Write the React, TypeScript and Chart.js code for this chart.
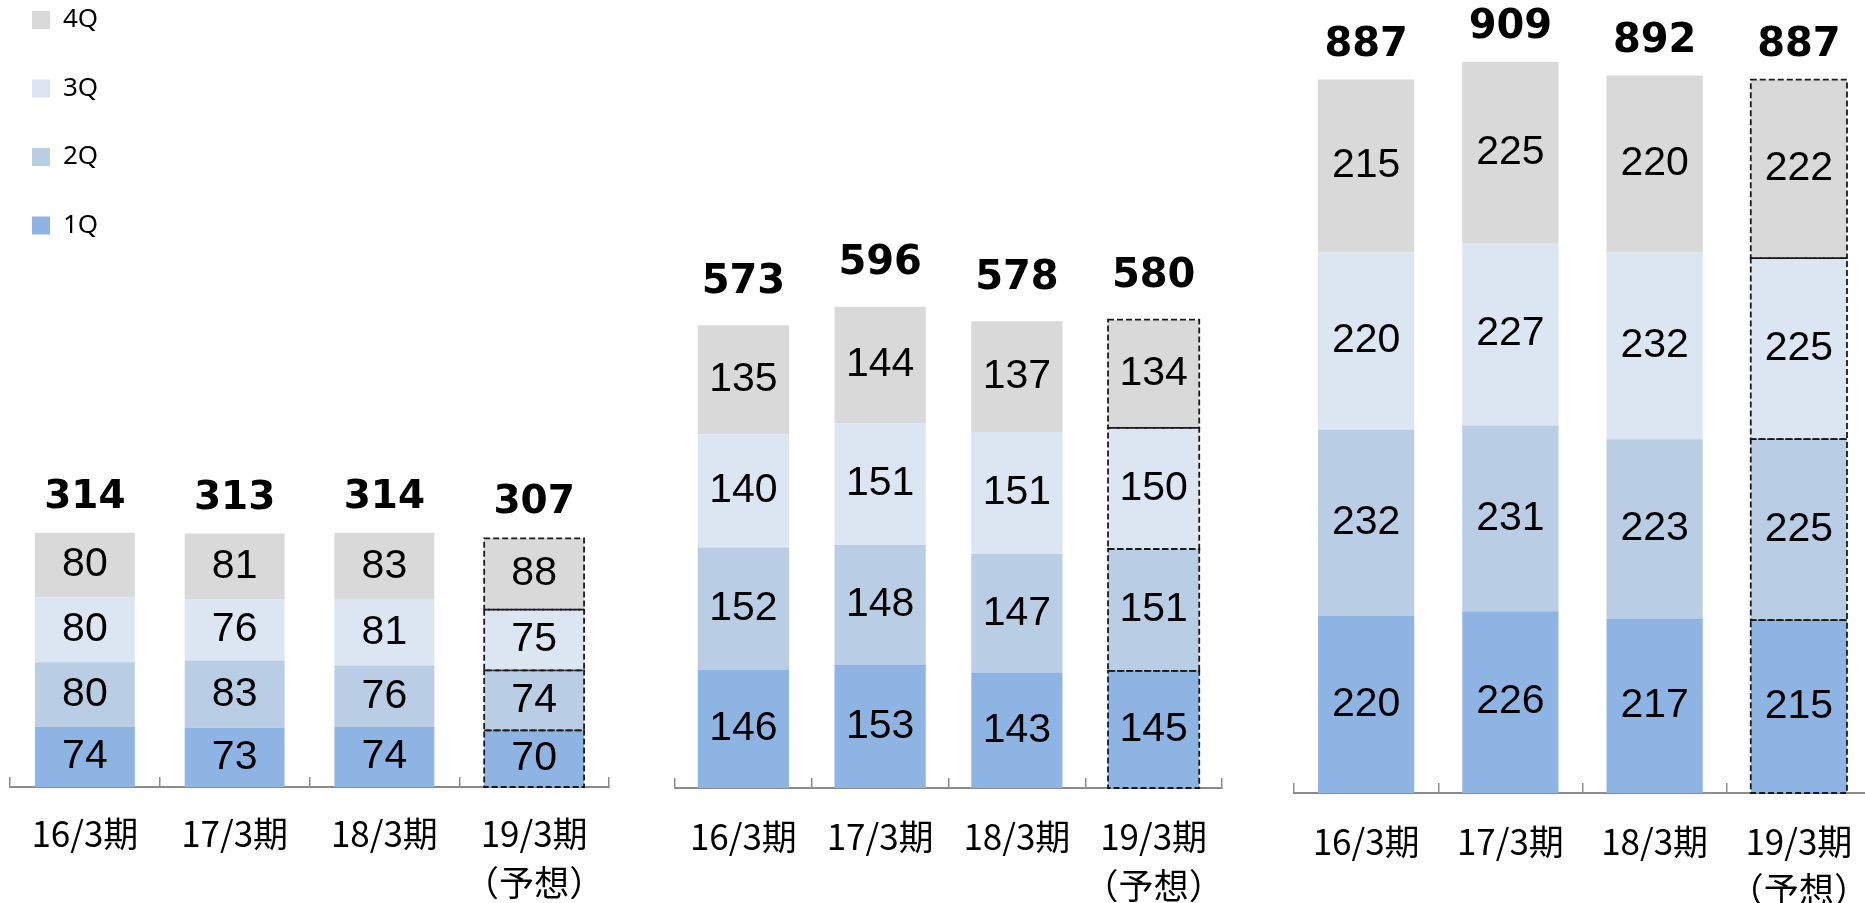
import React, { useEffect, useRef } from 'react';
import { Chart, registerables } from 'chart.js';

Chart.register(...registerables);

// ---------- data ----------
const categories: (string | string[])[] = ['16/3期', '17/3期', '18/3期', ['19/3期', '（予想）']];
const seriesNames = ['1Q', '2Q', '3Q', '4Q'];
const seriesColors = ['#8EB4E3', '#B9CDE5', '#DCE6F2', '#D9D9D9'];
const forecastIndex = 3;

// panel 1
const p1Q1 = [74, 73, 74, 70];
const p1Q2 = [80, 83, 76, 74];
const p1Q3 = [80, 76, 81, 75];
const p1Q4 = [80, 81, 83, 88];
// panel 2
const p2Q1 = [146, 153, 143, 145];
const p2Q2 = [152, 148, 147, 151];
const p2Q3 = [140, 151, 151, 150];
const p2Q4 = [135, 144, 137, 134];
// panel 3
const p3Q1 = [220, 226, 217, 215];
const p3Q2 = [232, 231, 223, 225];
const p3Q3 = [220, 227, 232, 225];
const p3Q4 = [215, 225, 220, 222];

interface Panel {
  series: number[][];
  yMax: number;
  left: number;
  top: number;
  width: number;
  height: number;
  axisHeight: number;
  tickSize: number;
  tickLineHeight: number;
  tickPadding: number;
  segFont: string;
  totalFont: string;
  totalOffset: number;
  legend: boolean;
}

const panels: Panel[] = [
  {
    series: [p1Q1, p1Q2, p1Q3, p1Q4],
    yMax: 990,
    left: 6, top: -15, width: 607, height: 918,
    axisHeight: 116,
    tickSize: 35, tickLineHeight: 1.39, tickPadding: 32.7,
    segFont: "41px 'Liberation Sans', Arial, sans-serif",
    totalFont: "bold 39px 'DejaVu Sans', sans-serif",
    totalOffset: 35,
    legend: true,
  },
  {
    series: [p2Q1, p2Q2, p2Q3, p2Q4],
    yMax: 976,
    left: 671, top: 0, width: 555, height: 903,
    axisHeight: 115,
    tickSize: 35, tickLineHeight: 1.39, tickPadding: 34.7,
    segFont: "41px 'Liberation Sans', Arial, sans-serif",
    totalFont: "bold 40px 'DejaVu Sans', sans-serif",
    totalOffset: 43,
    legend: false,
  },
  {
    series: [p3Q1, p3Q2, p3Q3, p3Q4],
    yMax: 986,
    left: 1290, top: 0, width: 585, height: 903,
    axisHeight: 110,
    tickSize: 35, tickLineHeight: 1.35, tickPadding: 35.4,
    segFont: "41px 'Liberation Sans', Arial, sans-serif",
    totalFont: "bold 40px 'DejaVu Sans', sans-serif",
    totalOffset: 34,
    legend: false,
  },
];

function makeLabelPlugin(p: Panel) {
  return {
    id: 'stackLabels',
    afterDatasetsDraw(chart: any) {
      const { ctx } = chart;
      const n = chart.data.datasets.length;
      // dashed outline around forecast segments
      ctx.save();
      ctx.setLineDash([6, 3]);
      ctx.lineWidth = 1.8;
      ctx.strokeStyle = '#1a1a1a';
      for (let d = 0; d < n; d++) {
        const el = chart.getDatasetMeta(d).data[forecastIndex];
        if (!el) continue;
        const { x, y, base, width } = el.getProps(['x', 'y', 'base', 'width'], true);
        ctx.strokeRect(x - width / 2, y, width, base - y);
      }
      ctx.restore();

      ctx.save();
      ctx.textAlign = 'center';
      ctx.textBaseline = 'middle';
      ctx.fillStyle = '#000';
      ctx.font = p.segFont;
      for (let d = 0; d < n; d++) {
        const meta = chart.getDatasetMeta(d);
        meta.data.forEach((el: any, i: number) => {
          const { x, y, base } = el.getProps(['x', 'y', 'base'], true);
          ctx.fillText(String(chart.data.datasets[d].data[i]), x, (y + base) / 2);
        });
      }
      ctx.font = p.totalFont;
      const topMeta = chart.getDatasetMeta(n - 1);
      topMeta.data.forEach((el: any, i: number) => {
        let total = 0;
        for (let d = 0; d < n; d++) total += Number(chart.data.datasets[d].data[i]);
        const { x, y } = el.getProps(['x', 'y'], true);
        ctx.fillText(String(total), x, y - p.totalOffset);
      });
      ctx.restore();
    },
  };
}

function PanelChart({ p }: { p: Panel }) {
  const ref = useRef<HTMLCanvasElement | null>(null);
  useEffect(() => {
    if (!ref.current) return;
    const chart = new Chart(ref.current, {
      type: 'bar',
      data: {
        labels: categories as any,
        datasets: p.series.map((s, k) => ({
          label: seriesNames[k],
          data: s,
          backgroundColor: seriesColors[k],
          borderWidth: 0,
          barPercentage: 0.667,
          categoryPercentage: 1.0,
        })),
      },
      options: {
        responsive: false,
        animation: false,
        events: [],
        layout: { padding: { left: 4, right: 4, top: 0, bottom: 0 } },
        scales: {
          x: {
            stacked: true,
            offset: true,
            grid: {
              display: true,
              drawOnChartArea: false,
              drawTicks: true,
              tickLength: -10,
              color: '#8c8c8c',
              lineWidth: 1.5,
              offset: true,
            },
            border: { display: true, color: '#8c8c8c', width: 2 },
            ticks: {
              color: '#000',
              font: { family: "'Noto Sans CJK JP', sans-serif", size: p.tickSize, lineHeight: p.tickLineHeight },
              padding: p.tickPadding,
              autoSkip: false,
              maxRotation: 0,
              minRotation: 0,
            },
            afterFit: (s: any) => {
              s.height = p.axisHeight;
              s.paddingLeft = 0;
              s.paddingRight = 0;
            },
          },
          y: { stacked: true, display: false, min: 0, max: p.yMax },
        },
        plugins: {
          tooltip: { enabled: false },
          legend: {
            display: p.legend,
            position: 'chartArea' as any,
            align: 'start',
            reverse: true,
            labels: {
              color: '#000',
              boxWidth: 18,
              boxHeight: 18,
              padding: 22,
              font: { family: "'Noto Sans', sans-serif", size: 26, lineHeight: 46.5 / 26 },
              generateLabels: (c: any) =>
                Chart.defaults.plugins.legend.labels.generateLabels(c).map((l: any) => ({ ...l, text: [l.text] })),
            },
          },
        },
      },
      plugins: [makeLabelPlugin(p)],
    });
    return () => chart.destroy();
  }, [p]);
  return (
    <canvas
      ref={ref}
      width={p.width}
      height={p.height}
      style={{ position: 'absolute', left: p.left, top: p.top, width: p.width, height: p.height }}
    />
  );
}

export default function App() {
  return (
    <div
      style={{
        position: 'absolute',
        left: 0,
        top: 0,
        width: 1865,
        height: 903,
        overflow: 'hidden',
        background: '#fff',
      }}
    >
      {panels.map((p, i) => (
        <PanelChart key={i} p={p} />
      ))}
    </div>
  );
}
